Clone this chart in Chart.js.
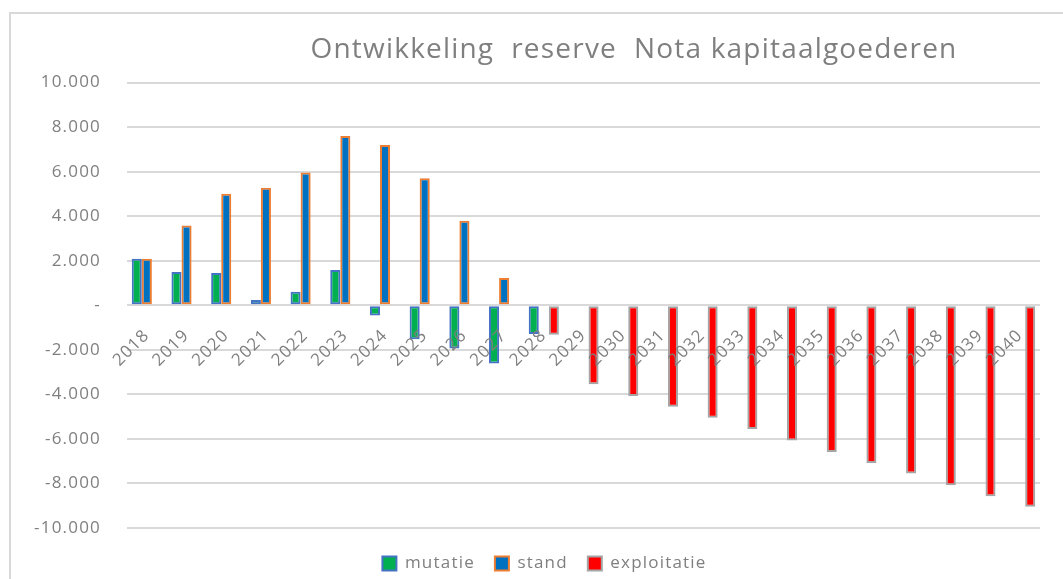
<!DOCTYPE html>
<html>
<head>
<meta charset="utf-8">
<script src="https://cdn.jsdelivr.net/npm/chart.js@4/dist/chart.umd.min.js"></script>
<style>
  html, body { margin: 0; padding: 0; background: #ffffff; }
  #wrap { position: relative; width: 1063px; height: 579px; }
</style>
</head>
<body>
<div id="wrap"><canvas id="c" width="1063" height="579"></canvas></div>
<script>
// ---- data ----
const titleText = 'Ontwikkeling  reserve  Nota kapitaalgoederen';
const years = ['2018','2019','2020','2021','2022','2023','2024','2025','2026','2027','2028','2029','2030','2031','2032','2033','2034','2035','2036','2037','2038','2039','2040'];
const mutatie = [2090, 1500, 1455, 235, 610, 1590, -460, -1530, -1940, -2615, -1285, null, null, null, null, null, null, null, null, null, null, null, null];
const stand = [2090, 3580, 5010, 5280, 5960, 7600, 7200, 5700, 3800, 1230, null, null, null, null, null, null, null, null, null, null, null, null, null];
const exploitatie = [null, null, null, null, null, null, null, null, null, null, -1320, -3550, -4070, -4560, -5045, -5555, -6070, -6590, -7085, -7550, -8080, -8570, -9050];
const yTickValues = [10000, 8000, 6000, 4000, 2000, 0, -2000, -4000, -6000, -8000, -10000];
const yTickLabels = ['10.000', '8.000', '6.000', '4.000', '2.000', '-', '-2.000', '-4.000', '-6.000', '-8.000', '-10.000'];
const seriesNames = ['mutatie', 'stand', 'exploitatie'];

const FONT = "'Open Sans', 'DejaVu Sans', sans-serif";
const GRAY = '#7f7f7f';
const SPACING = '1.2px';

const spacingPlugin = {
  id: 'spacing',
  beforeUpdate(chart) { chart.ctx.letterSpacing = SPACING; },
  beforeDraw(chart) { chart.ctx.letterSpacing = SPACING; }
};

const shiftPlugin = {
  id: 'shift',
  afterLayout(chart) {
    const t = chart.titleBlock;
    if (t) { t.left += 114; t.right += 114; }
    const l = chart.legend;
    if (l) { l.left += 24.5; l.right += 24.5; l.top += 7; l.bottom += 7; }
  }
};

const framePlugin = {
  id: 'frame',
  beforeDraw(chart) {
    const ctx = chart.ctx;
    ctx.save();
    ctx.strokeStyle = '#d9d9d9';
    ctx.lineWidth = 2;
    ctx.beginPath();
    ctx.moveTo(10, 579);
    ctx.lineTo(10, 13);
    ctx.lineTo(1063, 13);
    ctx.stroke();
    ctx.restore();
  }
};

new Chart(document.getElementById('c'), {
  type: 'bar',
  data: {
    labels: years,
    datasets: [
      { label: seriesNames[0], data: mutatie, backgroundColor: '#00B050', borderColor: '#4472C4', borderWidth: 2, borderSkipped: false },
      { label: seriesNames[1], data: stand, backgroundColor: '#0070C0', borderColor: '#ED7D31', borderWidth: 2, borderSkipped: false },
      { label: seriesNames[2], data: exploitatie, backgroundColor: '#FF0000', borderColor: '#A5A5A5', borderWidth: 2, borderSkipped: false }
    ]
  },
  options: {
    responsive: false,
    animation: false,
    layout: { padding: { left: 0, right: 23, top: 0, bottom: 4 } },
    datasets: { bar: { categoryPercentage: 0.76, barPercentage: 1.0 } },
    plugins: {
      title: {
        display: true,
        text: titleText,
        color: GRAY,
        font: { family: FONT, size: 28, weight: 'normal', lineHeight: 1.2 },
        padding: { top: 33, bottom: 16 }
      },
      legend: {
        position: 'bottom',
        maxHeight: 53,
        labels: {
          color: GRAY,
          font: { family: FONT, size: 17 },
          boxWidth: 14,
          boxHeight: 14,
          padding: 20
        }
      },
      tooltip: { enabled: false }
    },
    scales: {
      x: {
        position: { y: 0 },
        grid: { display: false },
        border: { display: false },
        afterFit(s) { s.height = 0; },
        ticks: {
          z: 1,
          color: GRAY,
          font: { family: FONT, size: 17 },
          minRotation: 45,
          maxRotation: 45,
          autoSkip: false,
          padding: 12
        }
      },
      y: {
        min: -10000,
        max: 10000,
        afterFit(s) { s.width = 127; },
        afterBuildTicks(s) { s.ticks = yTickValues.map(v => ({ value: v })); },
        grid: { color: '#d9d9d9', lineWidth: 2, drawTicks: false },
        border: { display: false },
        ticks: {
          color: GRAY,
          font: { family: FONT, size: 17 },
          padding: 26,
          callback(v) { const i = yTickValues.indexOf(v); return i >= 0 ? yTickLabels[i] : ''; }
        }
      }
    }
  },
  plugins: [spacingPlugin, shiftPlugin, framePlugin]
});
</script>
</body>
</html>
